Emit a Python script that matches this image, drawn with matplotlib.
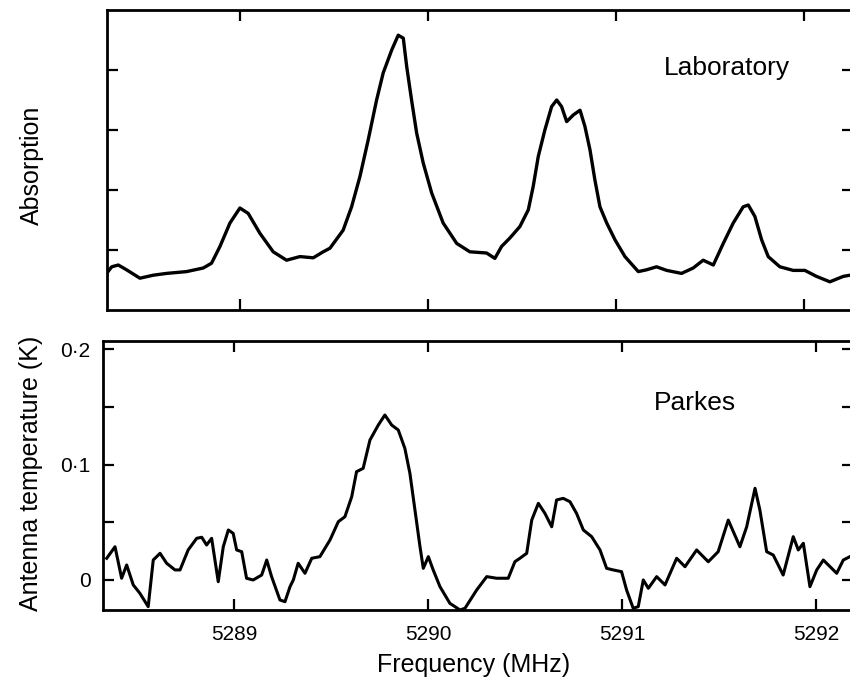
import matplotlib
matplotlib.use('Agg')
import matplotlib.pyplot as plt
from matplotlib.ticker import FuncFormatter

plt.rcParams['font.family'] = ['Liberation Sans', 'DejaVu Sans']

# laboratory spectrum (absorption, arbitrary units)
lab_freq = [5288.291, 5288.318, 5288.353, 5288.397, 5288.468, 5288.539, 5288.610, 5288.716,
            5288.805, 5288.849, 5288.894, 5288.947, 5289.000, 5289.044, 5289.106, 5289.177,
            5289.248, 5289.319, 5289.390, 5289.443, 5289.479, 5289.549, 5289.594, 5289.638,
            5289.682, 5289.727, 5289.762, 5289.807, 5289.842, 5289.869, 5289.887, 5289.913,
            5289.940, 5289.975, 5290.020, 5290.081, 5290.153, 5290.223, 5290.312, 5290.356,
            5290.392, 5290.436, 5290.489, 5290.534, 5290.560, 5290.587, 5290.622, 5290.658,
            5290.685, 5290.711, 5290.738, 5290.773, 5290.809, 5290.835, 5290.862, 5290.888,
            5290.915, 5290.951, 5290.995, 5291.048, 5291.119, 5291.163, 5291.216, 5291.270,
            5291.349, 5291.411, 5291.464, 5291.518, 5291.571, 5291.624, 5291.677, 5291.704,
            5291.739, 5291.775, 5291.810, 5291.872, 5291.943, 5292.005, 5292.067, 5292.138,
            5292.209, 5292.245]
lab_abs = [0.61, 0.72, 0.75, 0.67, 0.53, 0.58, 0.61, 0.64,
           0.70, 0.78, 1.06, 1.45, 1.70, 1.61, 1.28, 0.97,
           0.83, 0.89, 0.87, 0.97, 1.03, 1.33, 1.72, 2.22,
           2.83, 3.50, 3.95, 4.33, 4.58, 4.53, 4.06, 3.50,
           2.95, 2.45, 1.95, 1.45, 1.11, 0.97, 0.95, 0.86,
           1.06, 1.20, 1.39, 1.67, 2.06, 2.56, 3.00, 3.39,
           3.50, 3.39, 3.14, 3.25, 3.33, 3.06, 2.67, 2.17,
           1.72, 1.45, 1.17, 0.89, 0.64, 0.67, 0.72, 0.66,
           0.61, 0.70, 0.83, 0.75, 1.11, 1.45, 1.72, 1.75,
           1.56, 1.17, 0.89, 0.72, 0.66, 0.66, 0.56, 0.47,
           0.56, 0.58]

# Parkes spectrum (antenna temperature, K)
parkes_freq = [5288.344, 5288.387, 5288.421, 5288.447, 5288.481, 5288.515, 5288.558, 5288.584,
               5288.619, 5288.653, 5288.696, 5288.722, 5288.764, 5288.808, 5288.834, 5288.859,
               5288.885, 5288.919, 5288.945, 5288.971, 5288.996, 5289.014, 5289.040, 5289.065,
               5289.099, 5289.143, 5289.169, 5289.194, 5289.237, 5289.263, 5289.289, 5289.306,
               5289.331, 5289.366, 5289.401, 5289.443, 5289.495, 5289.538, 5289.572, 5289.607,
               5289.632, 5289.666, 5289.701, 5289.744, 5289.778, 5289.813, 5289.847, 5289.881,
               5289.907, 5289.933, 5289.959, 5289.976, 5290.002, 5290.027, 5290.062, 5290.113,
               5290.165, 5290.191, 5290.251, 5290.303, 5290.354, 5290.414, 5290.448, 5290.474,
               5290.509, 5290.535, 5290.569, 5290.603, 5290.638, 5290.663, 5290.697, 5290.732,
               5290.766, 5290.801, 5290.844, 5290.887, 5290.921, 5290.955, 5290.998, 5291.024,
               5291.058, 5291.084, 5291.110, 5291.136, 5291.179, 5291.222, 5291.282, 5291.325,
               5291.385, 5291.445, 5291.496, 5291.548, 5291.608, 5291.643, 5291.686, 5291.711,
               5291.746, 5291.780, 5291.831, 5291.883, 5291.909, 5291.935, 5291.969, 5292.004,
               5292.038, 5292.107, 5292.141, 5292.175]
parkes_temp = [0.0188, 0.0288, 0.0015, 0.0130, -0.0043, -0.0115, -0.0231, 0.0173,
               0.0231, 0.0145, 0.0087, 0.0087, 0.0260, 0.0361, 0.0370, 0.0303,
               0.0361, -0.0015, 0.0288, 0.0433, 0.0404, 0.0260, 0.0245, 0.0015,
               0.0000, 0.0043, 0.0173, 0.0029, -0.0173, -0.0188, -0.0058, 0.0000,
               0.0145, 0.0058, 0.0188, 0.0202, 0.0346, 0.0505, 0.0548, 0.0721,
               0.0938, 0.0967, 0.1212, 0.1342, 0.1429, 0.1342, 0.1299, 0.1140,
               0.0924, 0.0606, 0.0288, 0.0101, 0.0202, 0.0087, -0.0058, -0.0202,
               -0.0260, -0.0245, -0.0087, 0.0029, 0.0015, 0.0015, 0.0158, 0.0188,
               0.0231, 0.0519, 0.0664, 0.0577, 0.0461, 0.0693, 0.0707, 0.0678,
               0.0577, 0.0433, 0.0375, 0.0260, 0.0101, 0.0087, 0.0072, -0.0087,
               -0.0245, -0.0231, 0.0000, -0.0072, 0.0029, -0.0043, 0.0188, 0.0115,
               0.0260, 0.0158, 0.0245, 0.0519, 0.0288, 0.0461, 0.0794, 0.0606,
               0.0245, 0.0216, 0.0043, 0.0375, 0.0260, 0.0318, -0.0058, 0.0087,
               0.0173, 0.0058, 0.0173, 0.0202]

freq_ticks = [5289, 5290, 5291, 5292]
abs_ticks = [1, 2, 3, 4]
temp_ticks = [0, 0.1, 0.2]
temp_minor = [0.05, 0.15]

fig = plt.figure(figsize=(8.5, 6.89), dpi=100)
W, H = 850, 689

# axes placed in pixels of the original; right spine runs just off the edge
ax1 = fig.add_axes([107 / W, 1 - 310 / H, 746 / W, 300 / H])
ax2 = fig.add_axes([103 / W, 1 - 610 / H, 750 / W, 269 / H])

for ax in (ax1, ax2):
    ax.tick_params(which='both', direction='in', top=True, right=True,
                   length=8, width=1.6, labelsize=15)
    for s in ax.spines.values():
        s.set_linewidth(2.0)

# top: laboratory
ax1.plot(lab_freq, lab_abs, color='black', lw=2.4, solid_joinstyle='round')
ax1.set_xlim(5288.293, 5292.261)
ax1.set_ylim(0, 5)
ax1.set_xticks(freq_ticks)
ax1.set_yticks(abs_ticks)
ax1.set_xticklabels([])
ax1.set_yticklabels([])
ax1.text(5291.59, 4.03, 'Laboratory', fontsize=19, ha='center', va='center')

# bottom: Parkes
ax2.plot(parkes_freq, parkes_temp, color='black', lw=2.2, solid_joinstyle='round')
ax2.set_xlim(5288.325, 5292.191)
ax2.set_ylim(-0.026, 0.207)
ax2.set_xticks(freq_ticks)
ax2.set_yticks(temp_ticks)
ax2.set_yticks(temp_minor, minor=True)
ax2.yaxis.set_major_formatter(FuncFormatter(lambda v, p: ('%g' % round(v, 2)).replace('.', '\u00b7')))
ax2.tick_params(axis='y', pad=9)
ax2.tick_params(axis='x', pad=11)
ax2.text(5291.376, 0.153, 'Parkes', fontsize=19, ha='center', va='center')

fig.text(32 / W, 1 - 165 / H, 'Absorption', rotation=90, fontsize=18,
         ha='center', va='center')
fig.text(31 / W, 1 - 473 / H, 'Antenna temperature (K)', rotation=90, fontsize=18,
         ha='center', va='center')
fig.text(474 / W, 1 - 665 / H, 'Frequency (MHz)', fontsize=18, ha='center', va='center')

fig.savefig('out.png', dpi=100)
